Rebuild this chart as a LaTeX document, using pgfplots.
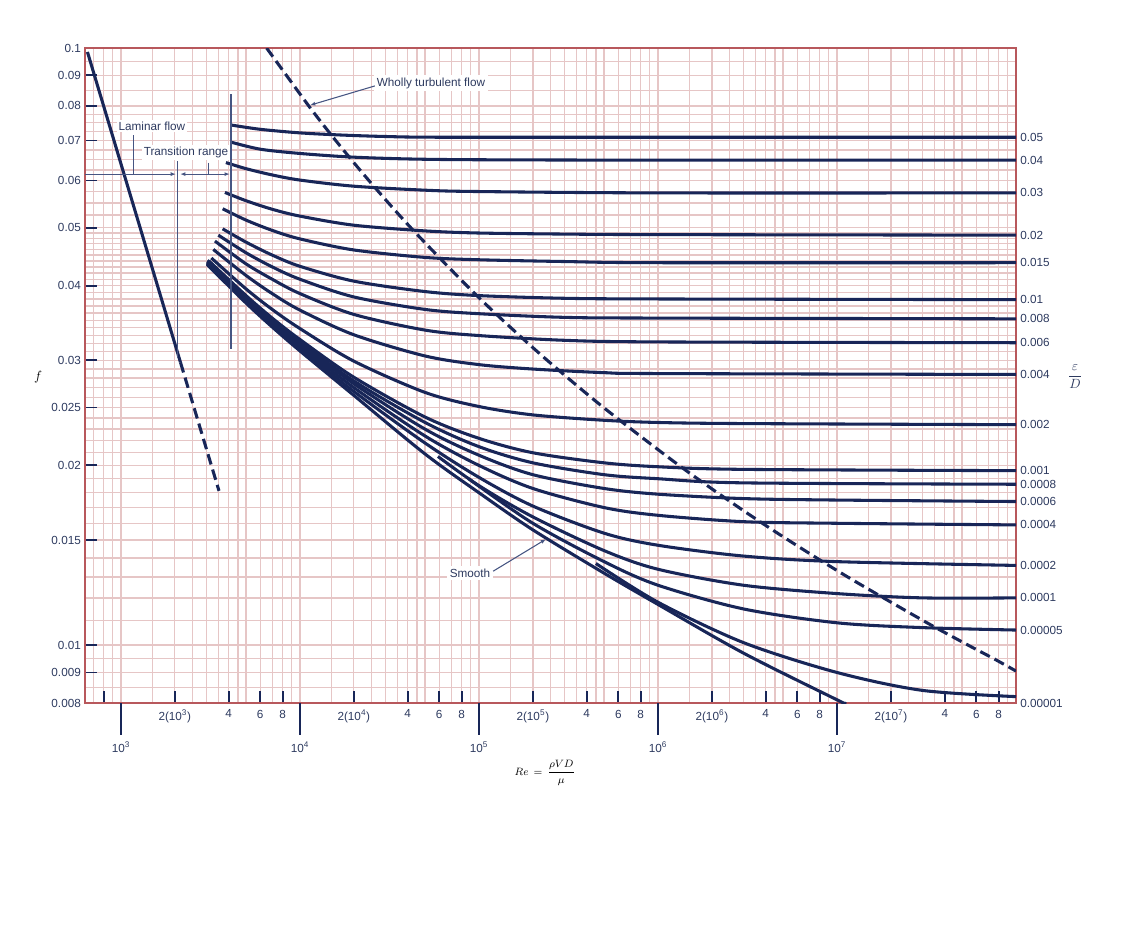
\documentclass[border=0pt]{standalone}
\usepackage{fontspec}
\setmainfont{Liberation Sans}
\usepackage{amsmath}
\usepackage{pgfplots}
\pgfplotsset{compat=1.18}
\usetikzlibrary{arrows.meta}
\definecolor{navy}{RGB}{24,38,88}
\definecolor{gridpink}{RGB}{230,198,198}
\definecolor{border}{RGB}{184,88,92}
\definecolor{txt}{RGB}{45,58,95}
\definecolor{ann}{RGB}{70,85,130}
\begin{document}
\fontsize{8.8pt}{10.5pt}\selectfont
\begin{tikzpicture}
\useasboundingbox (-63.75pt,-167.25pt) rectangle (785.25pt,527.25pt);
\begin{axis}[
  at={(0pt,0pt)}, anchor=south west,
  scale only axis, width=698.25pt, height=491.25pt,
  xmode=log, ymode=log,
  xmin=630, xmax=1e8, ymin=0.008, ymax=0.1,
  clip mode=individual,
  axis line style={draw=border, line width=1.6pt},
  xtick={800,2000,4000,6000,8000,20000,40000,60000,80000,2e5,4e5,6e5,8e5,2e6,4e6,6e6,8e6,2e7,4e7,6e7,8e7},
  xticklabels={,2(10\textsuperscript{3}),4,6,8,2(10\textsuperscript{4}),4,6,8,2(10\textsuperscript{5}),4,6,8,2(10\textsuperscript{6}),4,6,8,2(10\textsuperscript{7}),4,6,8},
  extra x ticks={1000,10000,1e5,1e6,1e7},
  extra x tick labels={10\textsuperscript{3},10\textsuperscript{4},10\textsuperscript{5},10\textsuperscript{6},10\textsuperscript{7}},
  extra x tick style={tick align=outside, major tick length=24pt, xticklabel style={yshift=0pt}},
  ytick={0.009,0.01,0.015,0.02,0.025,0.03,0.04,0.05,0.06,0.07,0.08,0.09},
  yticklabels={0.009,0.01,0.015,0.02,0.025,0.03,0.04,0.05,0.06,0.07,0.08,0.09},
  extra y ticks={0.008,0.1},
  extra y tick labels={0.008,0.1},
  extra y tick style={major tick length=0pt},
  xtick pos=left, ytick pos=left,
  tick align=inside, major tick length=9pt,
  tick style={draw=navy, line width=1.4pt},
  tick label style={text=txt},
  xticklabel style={yshift=-2pt},
  minor xtick={700,800,900,
    1000,1500,2000,2500,3000,3500,4000,4500,5000,6000,7000,8000,9000,
    10000,15000,20000,25000,30000,35000,40000,45000,50000,60000,70000,80000,90000,
    1e5,1.5e5,2e5,2.5e5,3e5,3.5e5,4e5,4.5e5,5e5,6e5,7e5,8e5,9e5,
    1e6,1.5e6,2e6,2.5e6,3e6,3.5e6,4e6,4.5e6,5e6,6e6,7e6,8e6,9e6,
    1e7,1.5e7,2e7,2.5e7,3e7,3.5e7,4e7,4.5e7,5e7,6e7,7e7,8e7,9e7},
  minor ytick={0.0085,0.009,0.0095,0.01,0.011,0.012,0.013,0.014,0.015,0.016,0.017,0.018,0.019,
    0.02,0.021,0.022,0.023,0.024,0.025,0.026,0.027,0.028,0.029,
    0.03,0.031,0.032,0.033,0.034,0.035,0.036,0.037,0.038,0.039,
    0.04,0.041,0.042,0.043,0.044,0.045,0.046,0.047,0.048,0.049,
    0.05,0.0525,0.055,0.0575,0.06,0.0625,0.065,0.0675,0.07,0.0725,0.075,0.0775,0.08,0.085,0.09,0.095},
  minor tick length=0pt,
  xminorgrids=true, yminorgrids=true,
  xmajorgrids=false, ymajorgrids=false,
  minor grid style={draw=gridpink, line width=1pt},
  major grid style={draw=gridpink, line width=1pt},
  every axis y label/.style={at={(rel axis cs:-0.0505,0.498)}, anchor=center},
  ylabel={\fontsize{10pt}{12pt}\selectfont$f$},
  every axis x label/.style={at={(rel axis cs:0.494,0)}, anchor=center, yshift=-52.5pt},
  xlabel={\fontsize{8.5pt}{10pt}\selectfont$Re\,=\,\dfrac{\rho VD}{\mu}$},
  curve/.style={draw=navy, line width=2.3pt, smooth, no marks},
  dashcurve/.style={draw=navy, line width=2.3pt, dash pattern=on 8pt off 4pt, no marks},
]
% laminar
\addplot[curve] coordinates {(650,0.0985) (2150,0.02977)};
\addplot[dashcurve] coordinates {(2150,0.02977) (3530,0.01813)};
% wholly turbulent boundary
\addplot[dashcurve, smooth] coordinates {(6514,0.1) (11197,0.08) (15848,0.07) (24267,0.06) (41642,0.05) (85470,0.04) (135930,0.035) (240500,0.03) (496760,0.025) (1.3118e6,0.02) (2.834e6,0.017) (5.337e6,0.015) (1.1514e7,0.013) (3.017e7,0.011) (5.405e7,0.01) (7.476e7,0.0095) (1e8,0.00905)};
% eps/D = 0.05
\addplot[curve] coordinates {(4150,0.0743) (6000,0.0731) (1e4,0.0721) (1.7e4,0.0715) (3e4,0.0711) (6e4,0.0709) (1e6,0.0709) (1e8,0.0709)};
% 0.04
\addplot[curve] coordinates {(4100,0.0696) (6000,0.0677) (1e4,0.0666) (1.9e4,0.0657) (4e4,0.0652) (1e5,0.0650) (1e6,0.0649) (1e8,0.0649)};
% 0.03
\addplot[curve] coordinates {(3860,0.0643) (5000,0.0628) (7000,0.0613) (1e4,0.0601) (2e4,0.0587) (5e4,0.0578) (1e5,0.0575) (1e6,0.0572) (1e8,0.0572)};
% 0.02
\addplot[curve] coordinates {(3810,0.0573) (5000,0.0555) (7000,0.0537) (1e4,0.0523) (2e4,0.0505) (5e4,0.0494) (1e5,0.0490) (3e5,0.0488) (1e6,0.0487) (1e8,0.0486)};
% 0.015
\addplot[curve] coordinates {(3700,0.0538) (5000,0.0515) (7000,0.0495) (1e4,0.0479) (2e4,0.0459) (5e4,0.0446) (1e5,0.0442) (3e5,0.0439) (1e6,0.0437) (1e8,0.0437)};
% 0.01
\addplot[curve] coordinates {(3700,0.0498) (5000,0.0473) (7000,0.0450) (1e4,0.0431) (2e4,0.0407) (5e4,0.0391) (1e5,0.0385) (3e5,0.0381) (1e6,0.0380) (1e8,0.0379)};
% 0.008
\addplot[curve] coordinates {(3500,0.0486) (5000,0.0454) (7000,0.0430) (1e4,0.0410) (2e4,0.0383) (5e4,0.0365) (1e5,0.0359) (3e5,0.0354) (1e6,0.0353) (1e8,0.0352)};
% 0.006
\addplot[curve] coordinates {(3350,0.0475) (5000,0.0435) (7000,0.0410) (1e4,0.0388) (2e4,0.0358) (5e4,0.0337) (1e5,0.0330) (3e5,0.0324) (1e6,0.0322) (1e8,0.0321)};
% 0.004
\addplot[curve] coordinates {(3280,0.0460) (5000,0.0416) (7000,0.0388) (1e4,0.0364) (2e4,0.0331) (5e4,0.0305) (1e5,0.0295) (2e5,0.0290) (5e5,0.0286) (1e6,0.0285) (1e8,0.0284)};
% 0.002
\addplot[curve] coordinates {(3200,0.0445) (5000,0.0395) (7000,0.0365) (1e4,0.0339) (2e4,0.0299) (5e4,0.0265) (1e5,0.0251) (2e5,0.0243) (5e5,0.0238) (1e6,0.0236) (3e6,0.0235) (1e8,0.0234)};
% 0.001
\addplot[curve] coordinates {(3100,0.0440) (5000,0.0385) (7000,0.0353) (1e4,0.0325) (2e4,0.0281) (5e4,0.0241) (1e5,0.0222) (2e5,0.0210) (5e5,0.0202) (1e6,0.0199) (3e6,0.0197) (1e8,0.0196)};
% 0.0008
\addplot[curve] coordinates {(3050,0.0441) (5000,0.0383) (7000,0.0351) (1e4,0.0322) (2e4,0.0277) (5e4,0.0236) (1e5,0.0215) (2e5,0.0202) (5e5,0.0193) (1e6,0.0190) (3e6,0.0187) (1e8,0.0186)};
% 0.0006
\addplot[curve] coordinates {(3050,0.0439) (5000,0.0381) (7000,0.0349) (1e4,0.0320) (2e4,0.0274) (5e4,0.0230) (1e5,0.0208) (2e5,0.0193) (5e5,0.0183) (1e6,0.0179) (3e6,0.0176) (1e7,0.0175) (1e8,0.0174)};
% 0.0004
\addplot[curve] coordinates {(3030,0.0438) (5000,0.0378) (7000,0.0346) (1e4,0.0317) (2e4,0.0270) (5e4,0.0224) (1e5,0.0200) (2e5,0.0183) (5e5,0.0170) (1e6,0.0165) (3e6,0.0161) (1e7,0.0160) (1e8,0.0159)};
% 0.0002
\addplot[curve] coordinates {(3030,0.0436) (5000,0.0376) (7000,0.0344) (1e4,0.0314) (2e4,0.0266) (5e4,0.0218) (1e5,0.0191) (2e5,0.0171) (5e5,0.0154) (1e6,0.0147) (3e6,0.0141) (1e7,0.0138) (1e8,0.0136)};
% 0.0001
\addplot[curve] coordinates {(5.9e4,0.0207) (1e5,0.0185) (2e5,0.0164) (5e5,0.0144) (1e6,0.0134) (3e6,0.0126) (1e7,0.0122) (3e7,0.0120) (1e8,0.0120)};
% 0.00005
\addplot[curve] coordinates {(8.75e4,0.0190) (2e5,0.0160) (5e5,0.0138) (1e6,0.0126) (3e6,0.0115) (1e7,0.0109) (3e7,0.0107) (1e8,0.0106)};
% 0.00001
\addplot[curve] coordinates {(4.5e5,0.0137) (1e6,0.0118) (3e6,0.0101) (1e7,0.0090) (3e7,0.0084) (1e8,0.0082)};
% smooth pipe
\addplot[curve] coordinates {(3030,0.0434) (5000,0.0374) (7000,0.0341) (1e4,0.0311) (2e4,0.0262) (5e4,0.0209) (1e5,0.0180) (2e5,0.0156) (5e5,0.0132) (1e6,0.0117) (3e6,0.0097) (1e7,0.0081) (1.1e7,0.0080)};

% annotations
\draw[ann, line width=0.8pt, -{Latex[length=4pt,width=3pt]}] (axis cs:630,0.0615) -- (axis cs:2030,0.0615);
\draw[ann, line width=0.8pt] (axis cs:1182,0.0715) -- (axis cs:1182,0.0615);
\draw[ann, line width=0.8pt] (axis cs:2080,0.0646) -- (axis cs:2080,0.0303);
\draw[ann, line width=0.8pt, {Latex[length=4pt,width=3pt]}-{Latex[length=4pt,width=3pt]}] (axis cs:2140,0.0615) -- (axis cs:4060,0.0615);
\draw[ann, line width=0.8pt] (axis cs:3100,0.0643) -- (axis cs:3100,0.0615);
\draw[ann, line width=0.8pt] (axis cs:4120,0.0837) -- (axis cs:4120,0.0313);
\node[fill=white, text=txt, inner sep=1.5pt] at (axis cs:1490,0.0740) {Laminar flow};
\node[fill=white, text=txt, inner sep=1.5pt] at (axis cs:2308,0.0669) {Transition range};
\node[fill=white, text=txt, inner sep=2pt] at (axis cs:5.39e4,0.0873) {Wholly turbulent flow};
\draw[ann, line width=0.8pt, -{Latex[length=4pt,width=3pt]}] (axis cs:2.62e4,0.0864) -- (axis cs:1.137e4,0.0802);
\node[fill=white, text=txt, inner sep=2pt] at (axis cs:8.91e4,0.0132) {Smooth};
\draw[ann, line width=0.8pt, -{Latex[length=4pt,width=3pt]}] (axis cs:1.2e5,0.0133) -- (axis cs:2.37e5,0.01505);

% eps/D labels at right
\begin{scope}[every node/.style={anchor=west, text=txt, inner sep=0pt, xshift=3pt}]
\node at (axis cs:1e8,0.0709) {0.05};
\node at (axis cs:1e8,0.0649) {0.04};
\node at (axis cs:1e8,0.0572) {0.03};
\node at (axis cs:1e8,0.0486) {0.02};
\node at (axis cs:1e8,0.0437) {0.015};
\node at (axis cs:1e8,0.0379) {0.01};
\node at (axis cs:1e8,0.0352) {0.008};
\node at (axis cs:1e8,0.0321) {0.006};
\node at (axis cs:1e8,0.0284) {0.004};
\node at (axis cs:1e8,0.0234) {0.002};
\node at (axis cs:1e8,0.0196) {0.001};
\node at (axis cs:1e8,0.0186) {0.0008};
\node at (axis cs:1e8,0.0174) {0.0006};
\node at (axis cs:1e8,0.0159) {0.0004};
\node at (axis cs:1e8,0.0136) {0.0002};
\node at (axis cs:1e8,0.0120) {0.0001};
\node at (axis cs:1e8,0.0106) {0.00005};
\node at (axis cs:1e8,0.0080) {0.00001};
\end{scope}
\node[text=txt] at (rel axis cs:1.0634,0.498) {\fontsize{10pt}{12pt}\selectfont$\dfrac{\varepsilon}{D}$};
\end{axis}
\end{tikzpicture}
\end{document}
